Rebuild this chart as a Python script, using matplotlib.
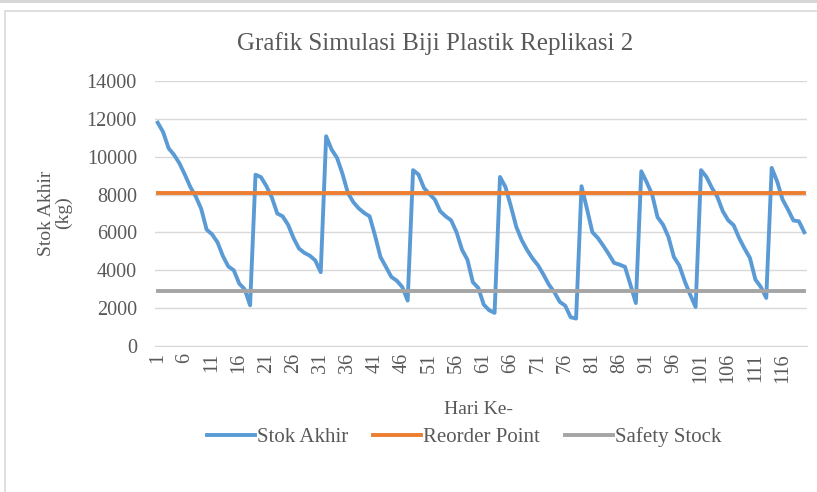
import matplotlib
matplotlib.use('Agg')
import matplotlib.pyplot as plt  # NOQA
from matplotlib.patches import Rectangle  # NOQA

# ending stock per day (kg)
stok_akhir = [11800, 11300, 10450, 10100, 9650, 9050, 8400, 7900, 7250, 6150,
              5900, 5480, 4750, 4200, 4000, 3300, 3000, 2150,
              9050, 8920, 8450, 7850, 7000, 6850, 6400, 5700, 5150, 4920,
              4770, 4520, 3900,
              11080, 10380, 9940, 9100, 8090, 7600, 7270, 7030, 6850, 5830,
              4700, 4180, 3650, 3450, 3120, 2400,
              9290, 9060, 8350, 8030, 7740, 7120, 6850, 6640, 6010, 5090,
              4560, 3370, 3070, 2190, 1890, 1750,
              8930, 8400, 7380, 6290, 5590, 5060, 4620, 4260, 3770, 3240,
              2840, 2330, 2130, 1520, 1450,
              8440, 7250, 6010, 5710, 5300, 4860, 4390, 4300, 4180, 3240,
              2270,
              9230, 8650, 8000, 6800, 6410, 5760, 4700, 4250, 3420, 2710,
              2060,
              9290, 8930, 8350, 7880, 7120, 6640, 6380, 5710, 5150, 4650,
              3510, 3120, 2540,
              9410, 8700, 7740, 7210, 6630, 6590, 6010]
reorder_point = 8080
safety_stock = 2880

hari = list(range(1, len(stok_akhir) + 1))
tick_hari = hari[::5]

TEXT = '#595959'
plt.rcParams['font.family'] = ['Liberation Serif', 'DejaVu Serif']

W, H = 817, 492
fig = plt.figure(figsize=(W / 100., H / 100.), dpi=100)

# chart frame like the excel screenshot
fig.patches.append(Rectangle((0, H - 3), W, 3, transform=None,
                             facecolor='#d6d6d6', edgecolor='none'))
fig.patches.append(Rectangle((5, -10), W + 50, H - 11 + 10, transform=None,
                             facecolor='none', edgecolor='#d9d9d9', lw=1.2))

ax = fig.add_axes([155. / W, 1 - 346. / H, 652. / W, 265. / H])

ax.plot(hari, stok_akhir, color='#5B9BD5', lw=2.8, label='Stok Akhir',
        solid_joinstyle='round', zorder=3)
ax.plot(hari, [reorder_point] * len(hari), color='#ED7D31', lw=2.8,
        label='Reorder Point', zorder=3)
ax.plot(hari, [safety_stock] * len(hari), color='#A5A5A5', lw=2.8,
        label='Safety Stock', zorder=3)

ax.set_xlim(0.5, len(hari) + 0.5)
ax.set_ylim(0, 14000)
ax.set_yticks(range(0, 14001, 2000))
ax.set_xticks(tick_hari)
ax.set_xticklabels([str(h) for h in tick_hari], rotation=90)
ax.grid(axis='y', color='#d9d9d9', lw=1)
ax.set_axisbelow(True)
for s in ['top', 'right', 'left']:
    ax.spines[s].set_visible(False)
ax.spines['bottom'].set_color('#d9d9d9')
ax.tick_params(length=0, labelsize=14.5, colors=TEXT)
ax.tick_params(axis='y', pad=13)
ax.tick_params(axis='x', pad=5)

fig.text(435. / W, 1 - 44. / H, 'Grafik Simulasi Biji Plastik Replikasi 2',
         ha='center', va='center', fontsize=18, color=TEXT)
fig.text(55. / W, 1 - 213. / H, 'Stok Akhir\n(kg)', rotation=90,
         ha='center', va='center', multialignment='center',
         fontsize=14, color=TEXT, linespacing=1.0)
fig.text(478. / W, 1 - 410. / H, 'Hari Ke-', ha='center', va='center',
         fontsize=14, color=TEXT)

leg = fig.legend(loc='center', bbox_to_anchor=(464.5 / W, 1 - 437. / H),
                 ncol=3, frameon=False, fontsize=15, handlelength=2.3,
                 handletextpad=0.1, columnspacing=1.2)
for t in leg.get_texts():
    t.set_color(TEXT)

plt.savefig('out.png', dpi=100)
plt.close()
